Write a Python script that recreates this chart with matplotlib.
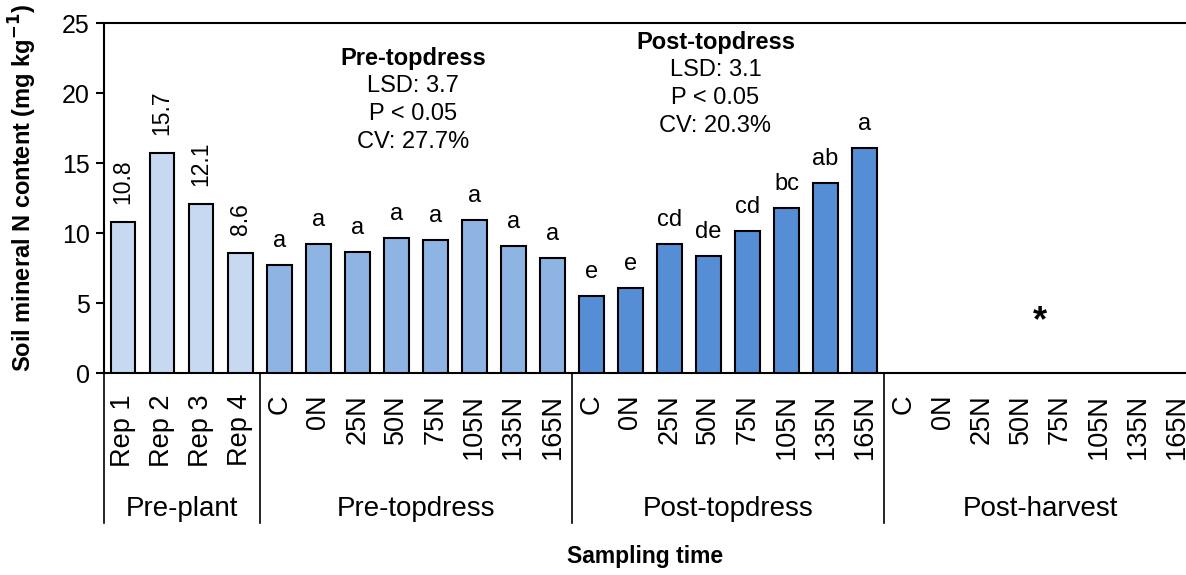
import matplotlib
matplotlib.use('Agg')
import matplotlib.pyplot as plt
import matplotlib.transforms as mtransforms

plt.rcParams['font.family'] = ['Liberation Sans', 'DejaVu Sans']

GROUPS = ['Pre-plant', 'Pre-topdress', 'Post-topdress', 'Post-harvest']
GROUP_LABELS = [
    ['Rep 1', 'Rep 2', 'Rep 3', 'Rep 4'],
    ['C', '0N', '25N', '50N', '75N', '105N', '135N', '165N'],
    ['C', '0N', '25N', '50N', '75N', '105N', '135N', '165N'],
    ['C', '0N', '25N', '50N', '75N', '105N', '135N', '165N'],
]
PRE_PLANT = [10.8, 15.7, 12.1, 8.6]
PRE_TOPDRESS = [7.76, 9.26, 8.64, 9.64, 9.55, 10.93, 9.12, 8.21]
POST_TOPDRESS = [5.52, 6.07, 9.21, 8.36, 10.17, 11.81, 13.62, 16.10]
PRE_TOPDRESS_LETTERS = ['a', 'a', 'a', 'a', 'a', 'a', 'a', 'a']
POST_TOPDRESS_LETTERS = ['e', 'e', 'cd', 'de', 'cd', 'bc', 'ab', 'a']
COLORS = ['#C6D9F1', '#8EB4E3', '#558ED5']

PRE_STATS = ['LSD: 3.7', 'P < 0.05', 'CV: 27.7%']
POST_STATS = ['LSD: 3.1', 'P < 0.05', 'CV: 20.3%']


def main():
    fig = plt.figure(figsize=(11.86, 5.75), dpi=100)
    ax = fig.add_axes([0.0874, 0.3508, 0.9212, 0.6087])

    labels = [lab for grp in GROUP_LABELS for lab in grp]
    n = len(labels)
    x_pp = list(range(0, 4))
    x_pre = list(range(4, 12))
    x_post = list(range(12, 20))

    bw = 0.63
    ax.bar(x_pp, PRE_PLANT, width=bw, color=COLORS[0], edgecolor='black', linewidth=1.5, zorder=3)
    ax.bar(x_pre, PRE_TOPDRESS, width=bw, color=COLORS[1], edgecolor='black', linewidth=1.5, zorder=3)
    ax.bar(x_post, POST_TOPDRESS, width=bw, color=COLORS[2], edgecolor='black', linewidth=1.5, zorder=3)

    for x, v in zip(x_pp, PRE_PLANT):
        ax.annotate('%.1f' % v, (x, v), xytext=(0, 13), textcoords='offset points',
                    rotation=90, ha='center', va='bottom', fontsize=16.5)
    for x, v, l in zip(x_pre, PRE_TOPDRESS, PRE_TOPDRESS_LETTERS):
        ax.annotate(l, (x, v), xytext=(0, 13), textcoords='offset points',
                    ha='center', va='baseline', fontsize=17)
    for x, v, l in zip(x_post, POST_TOPDRESS, POST_TOPDRESS_LETTERS):
        ax.annotate(l, (x, v), xytext=(0, 13), textcoords='offset points',
                    ha='center', va='baseline', fontsize=17)

    # stats boxes
    ax.text(7.43, 22.5, 'Pre-topdress', ha='center', va='center', fontsize=17, fontweight='bold')
    for i, s in enumerate(PRE_STATS):
        ax.text(7.43, 20.5 - 2.0 * i, s, ha='center', va='center', fontsize=17)
    ax.text(15.18, 23.6, 'Post-topdress', ha='center', va='center', fontsize=17, fontweight='bold')
    for i, s in enumerate(POST_STATS):
        ax.text(15.18, 21.65 - 2.0 * i, s, ha='center', va='center', fontsize=17)

    ax.text(23.5, 3.7, '*', ha='center', va='center', fontsize=26, fontweight='bold')

    ax.set_xlim(-0.5, n - 0.5)
    ax.set_ylim(0, 25)
    ax.set_yticks([0, 5, 10, 15, 20, 25])
    ax.tick_params(axis='y', labelsize=18, length=6, width=1.5, direction='out', pad=4)
    ax.set_xticks(range(n))
    ax.set_xticklabels(labels, rotation=90, fontsize=19.5)
    ax.tick_params(axis='x', length=0, pad=15)
    for sp in ax.spines.values():
        sp.set_linewidth(1.5)

    # group separators and labels below the axis
    trans = mtransforms.blended_transform_factory(ax.transData, ax.transAxes)
    bounds = [-0.5, 3.5, 11.5, 19.5, 27.5]
    for b in bounds:
        ax.plot([b, b], [0, -0.428], transform=trans, color='black', linewidth=1.2, clip_on=False)
    for i, g in enumerate(GROUPS):
        ax.text((bounds[i] + bounds[i + 1]) / 2, -0.408, g, transform=trans,
                ha='center', va='baseline', fontsize=20)

    fig.text(645 / 1186, 1 - 557 / 575, 'Sampling time', ha='center', va='center',
             fontsize=16.5, fontweight='bold')
    fig.text(23 / 1186, 1 - 188 / 575, 'Soil mineral N content (mg kg$^{\\mathbf{-1}}$)',
             rotation=90, ha='center', va='center', fontsize=17, fontweight='bold')

    fig.savefig('out.png', dpi=100)


if __name__ == '__main__':
    main()
